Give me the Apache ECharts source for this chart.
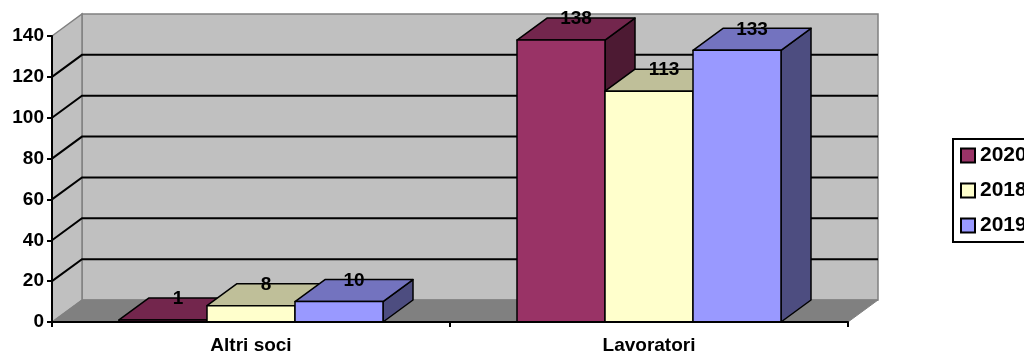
<!DOCTYPE html>
<html>
<head>
    <meta charset="utf-8">
    <title>Soci</title>
    <script src="https://cdn.jsdelivr.net/npm/echarts@6/dist/echarts.min.js"></script>
    <style>
        html, body { margin: 0; padding: 0; background: #fff; }
        #chart { width: 1024px; height: 356px; }
    </style>
</head>
<body>
    <div id="chart"></div>
    <script>
        const categories = ['Altri soci', 'Lavoratori'];
        const seriesNames = ['2020', '2018', '2019'];
        const values2020 = [1, 138];
        const values2018 = [8, 113];
        const values2019 = [10, 133];
        const yMax = 140;
        const yStep = 20;

        const FONT = '"Liberation Sans", Arial, sans-serif';
        const DX = 30, DY = -22; // depth of the 3d box
        const BAR_RATIO = 88 / 398; // bar width relative to category band

        // front, top, side colours
        const palette = [
            ['#993366', '#73264D', '#4D1A33'],
            ['#FFFFCC', '#BFBF99', '#808066'],
            ['#9999FF', '#7373BF', '#4D4D80']
        ];

        function renderWalls(params, api) {
            const cs = params.coordSys;
            const x0 = cs.x, x1 = cs.x + cs.width;
            const yb = api.coord([0, 0])[1];
            const yt = api.coord([0, yMax])[1];
            const children = [];
            // back wall
            children.push({ type: 'polygon', shape: { points: [[x0 + DX, yt + DY], [x1 + DX, yt + DY], [x1 + DX, yb + DY], [x0 + DX, yb + DY]] },
                style: { fill: '#C0C0C0', stroke: '#808080', lineWidth: 1.5 } });
            // side wall
            children.push({ type: 'polygon', shape: { points: [[x0, yt], [x0 + DX, yt + DY], [x0 + DX, yb + DY], [x0, yb]] },
                style: { fill: '#C0C0C0', stroke: '#808080', lineWidth: 1.5 } });
            // floor
            children.push({ type: 'polygon', shape: { points: [[x0, yb], [x1, yb], [x1 + DX, yb + DY], [x0 + DX, yb + DY]] },
                style: { fill: '#808080', stroke: '#808080', lineWidth: 1 } });
            for (let v = yStep; v < yMax; v += yStep) {
                const y = api.coord([0, v])[1];
                children.push({ type: 'polyline', shape: { points: [[x0, y], [x0 + DX, y + DY], [x1 + DX, y + DY]] },
                    style: { fill: null, stroke: '#000', lineWidth: 2 } });
            }
            return { type: 'group', children: children };
        }

        function makeBarRenderer(si) {
            return function (params, api) {
                const cat = api.value(0);
                const val = api.value(1);
                const band = api.size([1, 0])[0];
                const bw = band * BAR_RATIO;
                const top = api.coord([cat, val]);
                const base = api.coord([cat, 0]);
                const xl = top[0] - 1.5 * bw + si * bw;
                const xr = xl + bw;
                const yt = top[1], yb = base[1];
                const col = palette[si];
                const line = { stroke: '#000', lineWidth: 1.5, lineJoin: 'round' };
                return {
                    type: 'group',
                    children: [
                        { type: 'polygon', shape: { points: [[xr, yt], [xr + DX, yt + DY], [xr + DX, yb + DY], [xr, yb]] },
                            style: Object.assign({ fill: col[2] }, line) },
                        { type: 'polygon', shape: { points: [[xl, yt], [xl + DX, yt + DY], [xr + DX, yt + DY], [xr, yt]] },
                            style: Object.assign({ fill: col[1] }, line) },
                        { type: 'rect', shape: { x: xl, y: yt, width: bw, height: yb - yt },
                            style: Object.assign({ fill: col[0] }, line) },
                        { type: 'text', z2: 100, style: { text: String(val), x: (xl + xr) / 2 + DX / 2, y: yt + DY + 1,
                            align: 'center', verticalAlign: 'middle', fill: '#000', font: 'bold 19px ' + FONT } }
                    ]
                };
            };
        }

        const allValues = [values2020, values2018, values2019];
        const series = [{
            type: 'custom',
            name: 'walls',
            silent: true,
            z: 1,
            renderItem: renderWalls,
            data: [[0, 0]]
        }];
        seriesNames.forEach(function (name, i) {
            series.push({
                type: 'custom',
                name: name,
                z: 3,
                itemStyle: { color: palette[i][0], borderColor: '#000', borderWidth: 1.5 },
                renderItem: makeBarRenderer(i),
                data: allValues[i].map(function (v, k) { return [k, v]; })
            });
        });

        const chart = echarts.init(document.getElementById('chart'));
        chart.setOption({
            animation: false,
            grid: { left: 52, right: 176, top: 36, bottom: 34 },
            legend: {
                data: seriesNames,
                orient: 'vertical',
                left: 953,
                top: 139,
                icon: 'rect',
                itemWidth: 14,
                itemHeight: 14,
                itemGap: 14,
                padding: [6, 7],
                borderColor: '#000',
                borderWidth: 2,
                textStyle: { color: '#000', fontWeight: 'bold', fontSize: 21, fontFamily: FONT }
            },
            xAxis: {
                type: 'category',
                data: categories,
                axisLine: { show: true, lineStyle: { color: '#000', width: 2 } },
                axisTick: { show: true, length: 5, lineStyle: { color: '#000', width: 2 } },
                axisLabel: { color: '#000', fontWeight: 'bold', fontSize: 19, fontFamily: FONT, margin: 14 },
                z: 5
            },
            yAxis: {
                type: 'value',
                min: 0,
                max: yMax,
                interval: yStep,
                splitLine: { show: false },
                axisLine: { show: true, lineStyle: { color: '#000', width: 2 } },
                axisTick: { show: true, length: 5, lineStyle: { color: '#000', width: 2 } },
                axisLabel: { color: '#000', fontWeight: 'bold', fontSize: 19, fontFamily: FONT, margin: 8 },
                z: 5
            },
            series: series
        });
    </script>
</body>
</html>
